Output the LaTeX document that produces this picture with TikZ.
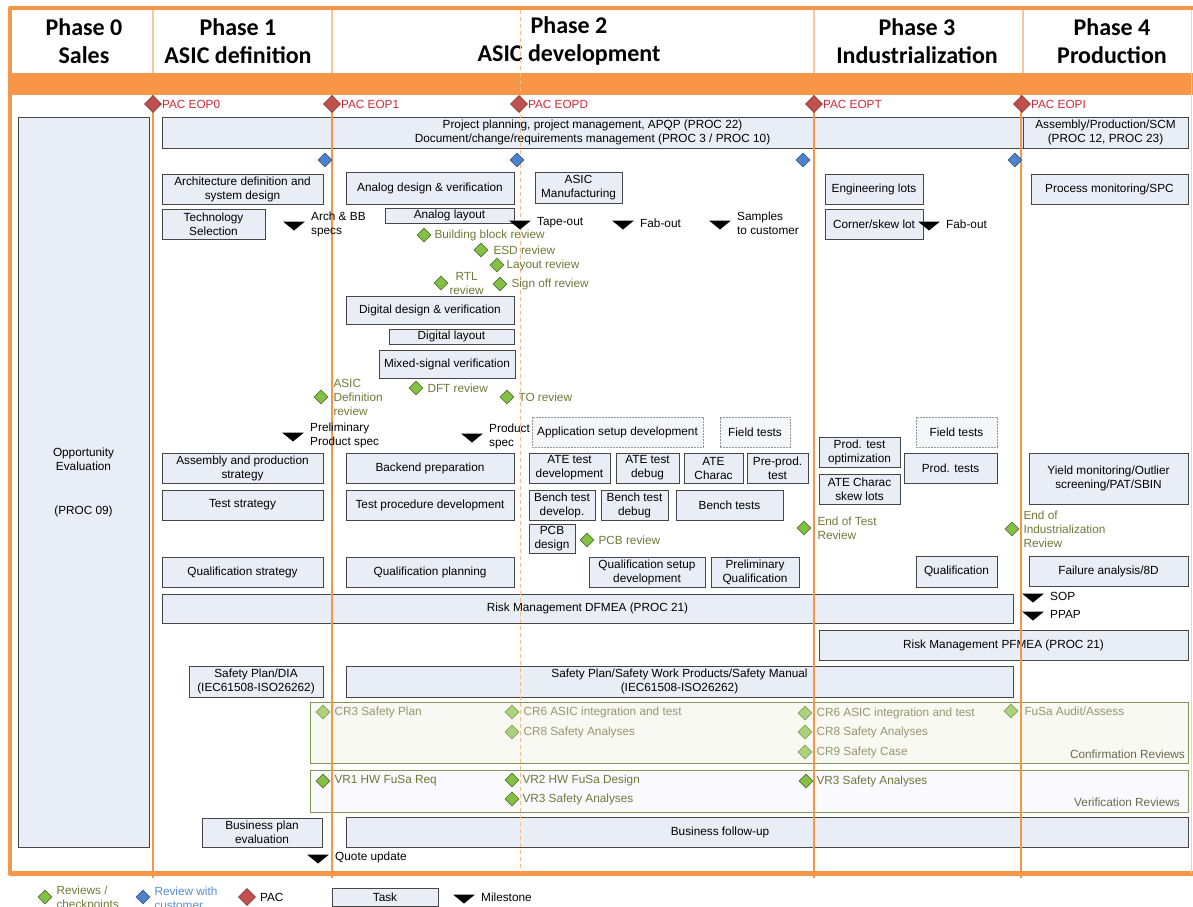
\documentclass[tikz,border=0pt]{standalone}
\usepackage{fontspec}
\setmainfont{Liberation Sans}
\newfontfamily\hdfont{Carlito}
\usetikzlibrary{shapes.geometric,calc,positioning}

\definecolor{orange}{RGB}{247,150,70}
\definecolor{taskfill}{RGB}{233,237,245}
\definecolor{boxline}{RGB}{70,70,70}
\definecolor{optline}{RGB}{150,150,150}
\definecolor{optfill}{RGB}{245,246,250}
\definecolor{revgreen}{RGB}{132,192,70}
\definecolor{revline}{RGB}{85,120,45}
\definecolor{crgreen}{RGB}{172,210,128}
\definecolor{crline}{RGB}{125,165,85}
\definecolor{custblue}{RGB}{80,130,200}
\definecolor{custline}{RGB}{55,95,150}
\definecolor{pacred}{RGB}{192,80,77}
\definecolor{pacline}{RGB}{140,55,50}
\definecolor{revtext}{RGB}{112,120,56}
\definecolor{crtext}{RGB}{150,150,112}
\definecolor{regtext}{RGB}{105,105,80}
\definecolor{pactext}{RGB}{210,40,50}
\definecolor{custtext}{RGB}{85,142,213}
\definecolor{regline}{RGB}{130,150,90}
\definecolor{crfill}{RGB}{248,249,242}
\definecolor{vrfill}{RGB}{249,249,254}

\newcommand{\bodytxt}{\fontsize{11.8}{14}\selectfont}
\newcommand{\hdtxt}{\hdfont\bfseries\fontsize{24}{28}\selectfont}

% milestone: name, position, label
\newcommand{\milestone}[3]{%
  \coordinate (#1) at (#2);
  \fill ($(#1)+(-11,-4.5)$) -- ($(#1)+(11,-4.5)$) -- ($(#1)+(0,4.5)$) -- cycle;
  \node[txt] (#1-txt) at ($(#1)+(17,-2)$) {#3};}

\begin{document}
\begin{tikzpicture}[x=1pt,y=-1pt,
    task/.style={draw=boxline, fill=taskfill, line width=0.9pt, inner sep=0pt, align=center, font=\bodytxt},
    optask/.style={task, draw=optline, fill=optfill, dash pattern=on 1.6pt off 1.4pt, line width=0.7pt},
    wh/.style 2 args={minimum width=#1, minimum height=#2},
    region/.style={draw=regline, line width=0.8pt, inner sep=0pt},
    phase/.style={align=center, font=\hdtxt},
    rev/.style={diamond, draw=revline, fill=revgreen, minimum size=14pt, inner sep=0pt, line width=0.6pt},
    crev/.style={rev, draw=crline, fill=crgreen},
    cust/.style={rev, draw=custline, fill=custblue},
    pac/.style={rev, minimum size=17pt, draw=pacline, fill=pacred},
    txt/.style={inner sep=0pt, anchor=west, align=left, font=\bodytxt},
    revtxt/.style={txt, text=revtext},
    crtxt/.style={txt, text=crtext},
    pactxt/.style={txt, text=pactext},
    hdline/.style={orange!55, line width=1.2pt},
    phaseline/.style={orange, line width=1.6pt}]

\useasboundingbox (0,0) rectangle (1193,906);
\clip (0,0) rectangle (1193,906);

% frame and header
\fill[orange] (10,73) rectangle (1193,95);
\draw[orange, line width=4pt, line cap=round, line join=round] (1193,8) -- (10,8) -- (10,873);
\draw[orange, line width=5pt, line cap=round] (10,873) -- (1193,873);
\draw[orange!45, line width=0.8pt] (1191,10) -- (1191,873);
\foreach \x in {153,332,814,1023}
  \draw[hdline] (\x,10) -- (\x,73);

\node[phase] (ph0) at (84,41) {Phase 0\\Sales};
\node[phase] (ph1) at (238,41) {Phase 1\\ASIC definition};
\node[phase] (ph2) at (569,41) {Phase 2\\ASIC development};
\node[phase] (ph3) at (917,41) {Phase 3\\Industrialization};
\node[phase] (ph4) at (1112,41) {Phase 4\\Production};

% tasks
\node[task, wh={131}{730}] (opp) at (83.5,482) {Opportunity\\Evaluation\\[30pt](PROC 09)};
\node[task, wh={861}{31}] (proj) at (592.5,132.5) {Project planning, project management, APQP (PROC 22)\\Document/change/requirements management (PROC 3 / PROC 10)};
\node[task, wh={165}{31}] (asmprod) at (1105.5,132.5) {Assembly/Production/SCM\\(PROC 12, PROC 23)};

\node[task, wh={161}{30}] (arch) at (242.5,189) {Architecture definition and\\system design};
\node[task, wh={103}{30}] (tech) at (213.5,224) {Technology\\Selection};
\node[task, wh={161}{30}] (asmstrat) at (242.5,468) {Assembly and production\\strategy};
\node[task, wh={161}{30}] (teststrat) at (242.5,505) {Test strategy};
\node[task, wh={161}{30}] (qualstrat) at (242.5,572) {Qualification strategy};

\node[task, wh={168}{32}] (anades) at (430,188) {Analog design \& verification};
\node[task, wh={129}{15}] (analay) at (449.5,215.5) {Analog layout};
\node[task, wh={87}{31}] (asicman) at (578.5,187.5) {ASIC\\Manufacturing};
\node[task, wh={168}{28}] (digdes) at (430,310) {Digital design \& verification};
\node[task, wh={125}{15}] (diglay) at (451.5,336.5) {Digital layout};
\node[task, wh={136}{28}] (mixsig) at (447,364) {Mixed-signal verification};
\node[task, wh={168}{30}] (backend) at (430,468) {Backend preparation};
\node[task, wh={168}{30}] (testproc) at (430,505) {Test procedure development};
\node[task, wh={168}{30}] (qualplan) at (430,572) {Qualification planning};

\node[optask, wh={171}{30}] (appsetup) at (617.5,432) {Application setup development};
\node[optask, wh={70}{30}] (field2) at (755,432) {Field tests};
\node[task, wh={81}{30}] (atedev) at (569.5,468) {ATE test\\development};
\node[task, wh={63}{30}] (atedbg) at (647.5,468) {ATE test\\debug};
\node[task, wh={59}{30}] (atechar) at (713.5,468) {ATE\\Charac};
\node[task, wh={61}{30}] (preprod) at (777.5,468) {Pre-prod.\\test};
\node[task, wh={66}{30}] (benchdev) at (562,505) {Bench test\\develop.};
\node[task, wh={67}{30}] (benchdbg) at (634.5,505) {Bench test\\debug};
\node[task, wh={107}{30}] (bench) at (729.5,505) {Bench tests};
\node[task, wh={46}{29}] (pcb) at (552,538.5) {PCB\\design};
\node[task, wh={116}{30}] (qualsetup) at (647,572) {Qualification setup\\development};
\node[task, wh={88}{30}] (prelqual) at (755,572) {Preliminary\\Qualification};

\node[task, wh={98}{30}] (englots) at (874,189) {Engineering lots};
\node[task, wh={98}{30}] (corner) at (874,224) {Corner/skew lot};
\node[optask, wh={81}{30}] (field3) at (956.5,432) {Field tests};
\node[task, wh={81}{30}] (prodopt) at (859.5,452) {Prod. test\\optimization};
\node[task, wh={81}{30}] (skewlots) at (859.5,489) {ATE Charac\\skew lots};
\node[task, wh={93}{30}] (prodtests) at (950.5,468) {Prod. tests};
\node[task, wh={81}{31}] (qual3) at (956.5,571.5) {Qualification};

\node[task, wh={157}{30}] (procmon) at (1109.5,189) {Process monitoring/SPC};
\node[task, wh={159}{51}] (yield) at (1108.5,478.5) {Yield monitoring/Outlier\\screening/PAT/SBIN};
\node[task, wh={159}{30}] (failure) at (1108.5,571) {Failure analysis/8D};

\node[task, wh={851}{29}] (dfmea) at (587.5,608.5) {Risk Management DFMEA (PROC 21)};
\node[task, wh={369}{30}] (pfmea) at (1003.5,645) {Risk Management PFMEA (PROC 21)};
\node[task, wh={134}{31}] (safdia) at (256,681.5) {Safety Plan/DIA\\(IEC61508-ISO26262)};
\node[task, wh={667}{31}] (safwork) at (679.5,681.5) {Safety Plan/Safety Work Products/Safety Manual\\(IEC61508-ISO26262)};

\node[region, fill=crfill, wh={878}{61}] (confirm) at (749,732.5) {};
\node[region, fill=vrfill, wh={878}{42}] (verif) at (749,791) {};
\node[txt, anchor=east, text=regtext] (confirm-txt) at (1185,754) {Confirmation Reviews};
\node[txt, anchor=east, text=regtext] (verif-txt) at (1180,802) {Verification Reviews};

\node[task, wh={120}{29}] (busplan) at (262,832.5) {Business plan\\evaluation};
\node[task, wh={842}{30}] (busfollow) at (767,832) {};
\node[txt, anchor=center] (busfollow-txt) at (720,832) {Business follow-up};

% phase lines
\foreach \x in {153,332,814,1021}
  \draw[phaseline] (\x,95) -- (\x,878);
\draw[orange!65, line width=1pt, dash pattern=on 4pt off 3pt] (520,10) -- (520,873);

% PAC
\node[pac] (eop0) at (153,104) {};
\node[pactxt, right=0pt of eop0] {PAC EOP0};
\node[pac] (eop1) at (332,104) {};
\node[pactxt, right=0pt of eop1] {PAC EOP1};
\node[pac] (eopd) at (519,104) {};
\node[pactxt, right=0pt of eopd] {PAC EOPD};
\node[pac] (eopt) at (814,104) {};
\node[pactxt, right=0pt of eopt] {PAC EOPT};
\node[pac] (eopi) at (1022,104) {};
\node[pactxt, right=0pt of eopi] {PAC EOPI};

% reviews with customer
\foreach \x [count=\i] in {325,517,803,1015}
  \node[cust] (cust\i) at (\x,160) {};

% reviews / checkpoints
\node[rev] (bbrev) at (424,235) {};
\node[revtxt, right=3pt of bbrev] {Building block review};
\node[rev] (esdrev) at (481,250) {};
\node[revtxt, right=5pt of esdrev] {ESD review};
\node[rev] (layrev) at (497,265) {};
\node[revtxt, right=2pt of layrev] {Layout review};
\node[rev] (rtlrev) at (441,283) {};
\node[revtxt, align=center, right=1pt of rtlrev] {RTL\\review};
\node[rev] (signrev) at (500,284) {};
\node[revtxt, right=4pt of signrev] {Sign off review};
\node[rev] (dftrev) at (416,388) {};
\node[revtxt, right=4pt of dftrev] {DFT review};
\node[rev] (torev) at (507,397) {};
\node[revtxt, right=4pt of torev] {TO review};
\node[rev] (defrev) at (321,397) {};
\node[revtxt, right=5pt of defrev] {ASIC\\Definition\\review};
\node[rev] (pcbrev) at (587,540) {};
\node[revtxt, right=4pt of pcbrev] {PCB review};
\node[rev] (testrev) at (804,528) {};
\node[revtxt, right=6pt of testrev] {End of Test\\Review};
\node[rev] (indrev) at (1012,529) {};
\node[revtxt, right=4pt of indrev] {End of\\Industrialization\\Review};

% confirmation reviews
\node[crev] (cr3) at (323,712) {};
\node[crtxt, right=4pt of cr3] {CR3 Safety Plan};
\node[crev] (cr6a) at (512,712) {};
\node[crtxt, right=4pt of cr6a] {CR6 ASIC integration and test};
\node[crev] (cr8a) at (512,732) {};
\node[crtxt, right=4pt of cr8a] {CR8 Safety Analyses};
\node[crev] (cr6b) at (805,713) {};
\node[crtxt, right=4pt of cr6b] {CR6 ASIC integration and test};
\node[crev] (cr8b) at (805,732) {};
\node[crtxt, right=4pt of cr8b] {CR8 Safety Analyses};
\node[crev] (cr9) at (805,752) {};
\node[crtxt, right=4pt of cr9] {CR9 Safety Case};
\node[crev] (fusa) at (1011,711) {};
\node[crtxt, right=6pt of fusa] {FuSa Audit/Assess};

% verification reviews
\node[rev] (vr1) at (323,781) {};
\node[revtxt, right=4pt of vr1] {VR1 HW FuSa Req};
\node[rev] (vr2) at (512,780) {};
\node[revtxt, right=3pt of vr2] {VR2 HW FuSa Design};
\node[rev] (vr3a) at (512,799) {};
\node[revtxt, right=3pt of vr3a] {VR3 Safety Analyses};
\node[rev] (vr3b) at (806,781) {};
\node[revtxt, right=3pt of vr3b] {VR3 Safety Analyses};

% milestones
\milestone{archbb}{294,226}{Arch \& BB\\specs}
\milestone{tapeout}{520,225}{Tape-out}
\milestone{fabout}{623,225}{Fab-out}
\milestone{samples}{720,225}{Samples\\to customer}
\milestone{fabout3}{929,226}{Fab-out}
\milestone{prelspec}{293,437}{Preliminary\\Product spec}
\milestone{prodspec}{472,438}{Product\\spec}
\milestone{sop}{1033,598}{SOP}
\milestone{ppap}{1033,616}{PPAP}
\milestone{quote}{318,859}{Quote update}

% legend
\node[rev] (lg-rev) at (45,897) {};
\node[revtxt, right=4pt of lg-rev, yshift=-1pt] {Reviews /\\checkpoints};
\node[cust] (lg-cust) at (143,897) {};
\node[txt, text=custtext, right=4pt of lg-cust, yshift=-1pt] {Review with\\customer};
\node[pac] (lg-pac) at (247,897) {};
\node[txt, right=4pt of lg-pac] {PAC};
\node[task, wh={106}{18}] (lg-task) at (385,897) {Task};
\milestone{lg-ms}{464,899}{Milestone}
\end{tikzpicture}
\end{document}
